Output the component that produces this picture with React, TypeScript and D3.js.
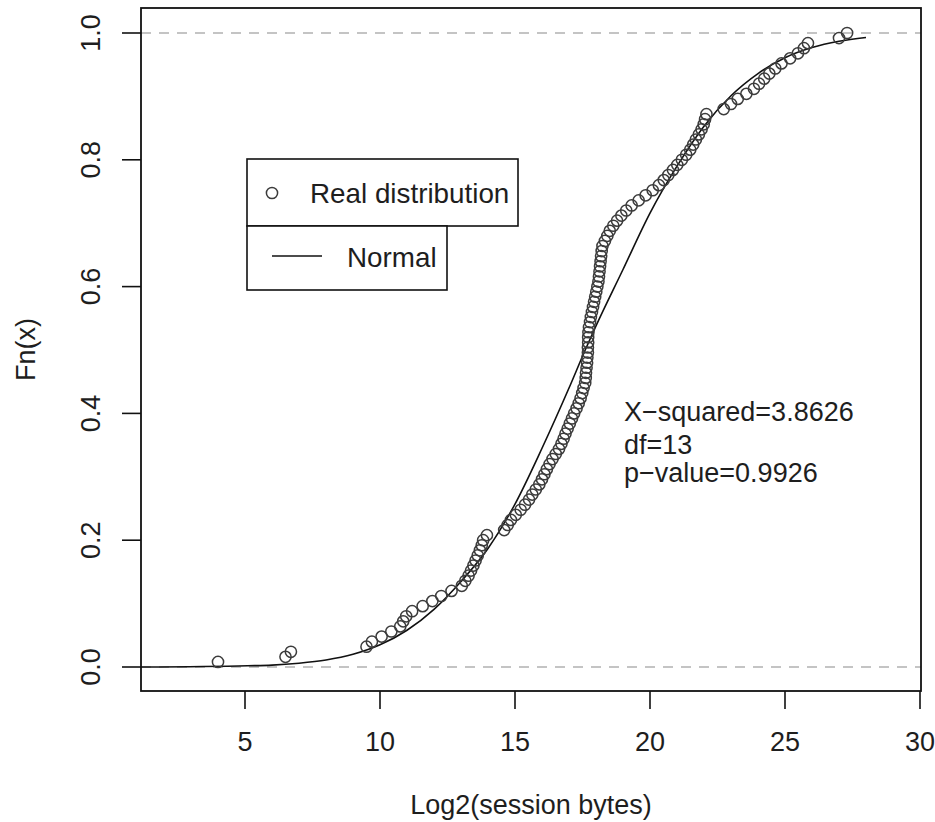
import React from "react";
import * as d3 from "d3";

const sampleX: number[] = [
  4.0, 6.5, 6.7, 9.5, 9.7, 10.06, 10.42, 10.75, 10.86, 10.97,
  11.19, 11.58, 11.94, 12.27, 12.65, 13.03, 13.16, 13.28, 13.37, 13.46,
  13.54, 13.62, 13.7, 13.77, 13.82, 13.96, 14.6, 14.73, 14.85, 15.03,
  15.21, 15.37, 15.52, 15.64, 15.77, 15.9, 16.0, 16.09, 16.18, 16.28,
  16.39, 16.51, 16.63, 16.72, 16.8, 16.87, 16.95, 17.03, 17.11, 17.19,
  17.28, 17.36, 17.43, 17.49, 17.54, 17.6, 17.62, 17.63, 17.65, 17.67,
  17.68, 17.7, 17.7, 17.71, 17.71, 17.72, 17.74, 17.78, 17.81, 17.85,
  17.89, 17.93, 17.97, 18.01, 18.05, 18.09, 18.11, 18.13, 18.15, 18.17,
  18.19, 18.21, 18.24, 18.33, 18.42, 18.51, 18.64, 18.78, 18.94, 19.12,
  19.32, 19.58, 19.84, 20.1, 20.33, 20.51, 20.68, 20.85, 21.01, 21.18,
  21.34, 21.49, 21.6, 21.7, 21.81, 21.91, 21.99, 22.04, 22.09, 22.73,
  23.0, 23.25, 23.57, 23.85, 24.04, 24.23, 24.42, 24.64, 24.87, 25.19,
  25.48, 25.7, 25.85, 27.0, 27.3,
];

// Fitted normal CDF
const normalX: number[] = [1.15, 5.1, 6, 7, 8, 9, 10, 11, 12, 13, 14, 15, 16, 17, 17.6, 18, 19, 20, 21, 22, 23, 24, 25, 26, 27, 28];
const normalY: number[] = [0, 0.002, 0.003, 0.006, 0.011, 0.02, 0.035, 0.058, 0.091, 0.135, 0.187, 0.257, 0.345, 0.44, 0.5, 0.538, 0.627, 0.716, 0.79, 0.853, 0.901, 0.936, 0.961, 0.977, 0.987, 0.993];

const xTicks: number[] = [5, 10, 15, 20, 25, 30];
const yTicks: number[] = [0, 0.2, 0.4, 0.6, 0.8, 1.0];
const refLines: number[] = [0, 1];
const statsLines: string[] = ["X\u2212squared=3.8626", "df=13", "p\u2212value=0.9926"];
const legendLabels: string[] = ["Real distribution", "Normal"];

const W = 935, H = 822;
const L = 141, R = 921, T = 8, B = 691;
const FONT = "'Liberation Sans', Arial, Helvetica, sans-serif";
const TXT = "#1e1e1e";

export default function App() {
  const x = d3.scaleLinear().domain([(L - 110) / 27, (R - 110) / 27]).range([L, R]);
  const y = d3.scaleLinear().domain([(667 - B) / 634, (667 - T) / 634]).range([B, T]);
  const n = sampleX.length;
  const pts = sampleX.map((v, i) => [v, (i + 1) / n] as [number, number]);
  const line = d3
    .line<[number, number]>()
    .x((d) => x(d[0]))
    .y((d) => y(d[1]))
    .curve(d3.curveMonotoneX);
  const normPts = normalX.map((v, i) => [v, normalY[i]] as [number, number]);

  return (
    <svg width={W} height={H} style={{ display: "block", position: "absolute", left: 0, top: 0, background: "#fff" }} fontFamily={FONT}>
      <rect x={0} y={0} width={W} height={H} fill="#fff" />
      {refLines.map((v) => (
        <line key={v} x1={L} x2={R} y1={y(v)} y2={y(v)} stroke="#c4c4c4" strokeWidth={2} strokeDasharray="10 8" />
      ))}
      <path d={line(normPts) || ""} fill="none" stroke="#111" strokeWidth={1.6} />
      {pts.map((p, i) => (
        <circle key={i} cx={x(p[0])} cy={y(p[1])} r={5.6} fill="none" stroke="#3c3c3c" strokeWidth={1.5} />
      ))}
      <rect x={L} y={T} width={R - L} height={B - T} fill="none" stroke="#111" strokeWidth={1.8} />
      {xTicks.map((t) => (
        <g key={t}>
          <line x1={x(t)} x2={x(t)} y1={B} y2={B + 18} stroke="#111" strokeWidth={1.6} />
          <text x={x(t)} y={751} textAnchor="middle" fontSize={27} fill={TXT}>{t}</text>
        </g>
      ))}
      {yTicks.map((t) => (
        <g key={t}>
          <line x1={L - 19} x2={L} y1={y(t)} y2={y(t)} stroke="#111" strokeWidth={1.6} />
          <text transform={`translate(100,${y(t)}) rotate(-90)`} textAnchor="middle" fontSize={27} fill={TXT}>{t.toFixed(1)}</text>
        </g>
      ))}
      <text x={(L + R) / 2} y={814} textAnchor="middle" fontSize={27} fill={TXT}>Log2(session bytes)</text>
      <text transform={`translate(35,${(T + B) / 2}) rotate(-90)`} textAnchor="middle" fontSize={27} fill={TXT}>Fn(x)</text>
      {/* legend */}
      <rect x={247} y={159} width={271} height={67} fill="#fff" stroke="#111" strokeWidth={1.6} />
      <circle cx={272} cy={193} r={5.6} fill="none" stroke="#3c3c3c" strokeWidth={1.5} />
      <text x={310} y={203} fontSize={27.8} fill={TXT}>{legendLabels[0]}</text>
      <rect x={247} y={226} width={200} height={64} fill="#fff" stroke="#111" strokeWidth={1.6} />
      <line x1={272} x2={322} y1={256} y2={256} stroke="#111" strokeWidth={1.6} />
      <text x={347} y={267} fontSize={27.8} fill={TXT}>{legendLabels[1]}</text>
      {statsLines.map((s, i) => (
        <text key={i} x={624} y={[421, 454, 482][i]} fontSize={27} fill={TXT}>{s}</text>
      ))}
    </svg>
  );
}
